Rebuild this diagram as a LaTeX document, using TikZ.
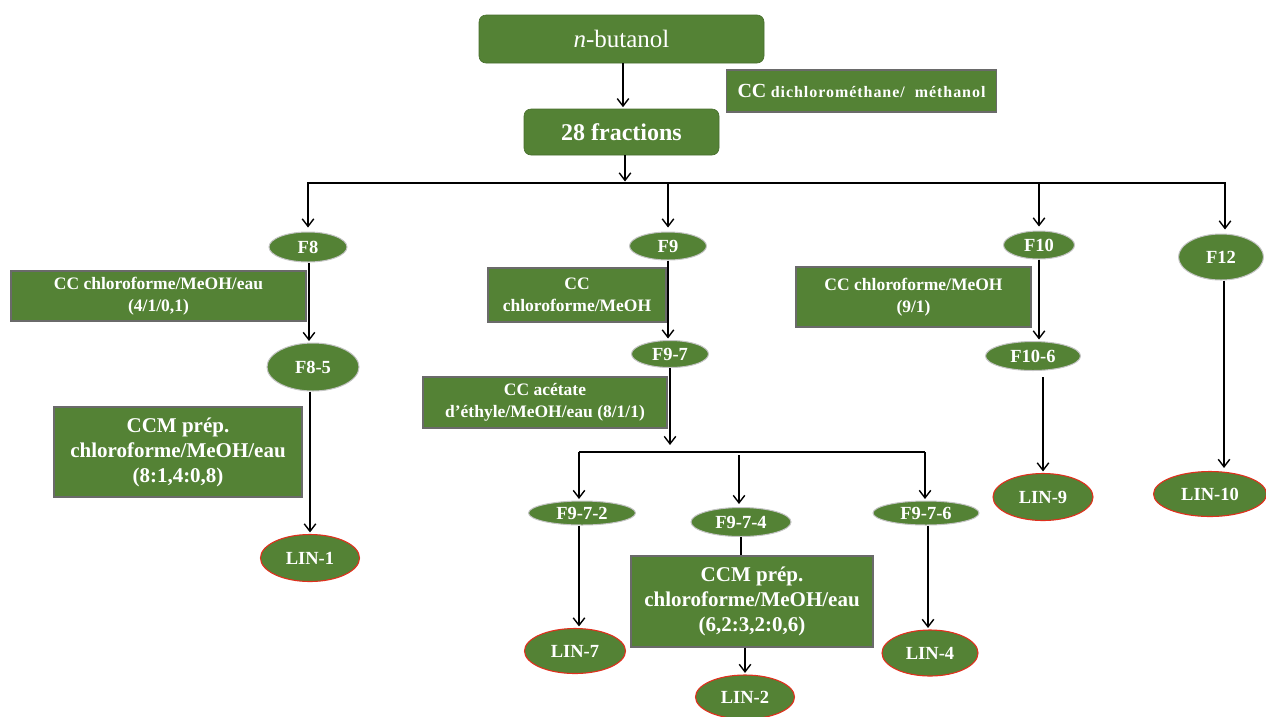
\documentclass[tikz,border=0pt]{standalone}
\usepackage{fontspec}
\setmainfont{Liberation Serif}
\newfontfamily\spacedserif[LetterSpace=6]{Liberation Serif}
\usetikzlibrary{shapes.geometric,arrows.meta}
\definecolor{leaf}{HTML}{548235}
\definecolor{rimgray}{HTML}{6A6A6A}
\definecolor{ovalrim}{HTML}{C4C4C4}
\definecolor{linrim}{HTML}{E0301E}
\begin{document}
\begin{tikzpicture}[x=1pt,y=-1pt,
  txt/.style={text=white,align=center,inner sep=0pt},
  headbox/.style={txt,fill=leaf,draw=leaf!85!black,line width=0.6pt,rounded corners=7pt},
  box/.style={txt,fill=leaf,draw=rimgray,line width=1.3pt,
    font={\fontsize{17.5}{21.5}\selectfont\bfseries}},
  bigbox/.style={box,font={\fontsize{21}{25}\selectfont\bfseries}},
  oval/.style={txt,ellipse,fill=leaf,draw=ovalrim,line width=1pt,
    font={\fontsize{18.5}{21}\selectfont\bfseries}},
  linoval/.style={oval,draw=linrim,line width=1.1pt},
  arr/.style={line width=1.4pt,shorten >=1.5pt,
    -{Straight Barb[length=7.5pt,width=11.5pt,line width=1.4pt]}},
  link/.style={line width=1.4pt}]

% page
\fill[white] (0,0) rectangle (1266,716);
\useasboundingbox (0,0) rectangle (1266,716);

% top of the scheme
\node[headbox,minimum width=285,minimum height=48,
  font={\fontsize{25}{28}\selectfont}] (butanol) at (621.5,39) {\textit{n}-butanol};
\node[headbox,minimum width=195,minimum height=46,
  font={\fontsize{24}{28}\selectfont\bfseries}] (frac) at (621.5,132) {28 fractions};
\node[box,minimum width=270,minimum height=42] (ccdcm) at (861.5,91)
  {{\fontsize{20}{21}\selectfont CC} {\fontsize{16}{19}\selectfont\spacedserif\bfseries dichlorométhane/\ \ méthanol}};

% first level fractions
\node[oval,minimum width=78,minimum height=30] (F8) at (308,247) {F8};
\node[oval,minimum width=77,minimum height=28] (F9) at (668,246) {F9};
\node[oval,minimum width=71,minimum height=28] (F10) at (1039,245) {F10};
\node[oval,minimum width=85,minimum height=46] (F12) at (1221,257) {F12};

% F8 branch
\node[box,minimum width=295,minimum height=50] (box1) at (158.5,296)
  {CC chloroforme/MeOH/eau\\(4/1/0,1)};
\node[oval,minimum width=92,minimum height=48] (F85) at (313,367) {F8-5};
\node[bigbox,minimum width=248,minimum height=90] (box2) at (178,452)
  {CCM prép.\\chloroforme/MeOH/eau\\(8:1,4:0,8)};
\node[linoval,minimum width=99,minimum height=47] (LIN1) at (310,558) {LIN-1};

% F9 branch
\node[box,minimum width=178,minimum height=54] (box3) at (577,295)
  {CC\\chloroforme/MeOH};
\node[oval,minimum width=77,minimum height=27] (F97) at (670,354) {F9-7};
\node[box,minimum width=244,minimum height=51] (box4) at (545,402.5)
  {CC acétate\\d’éthyle/MeOH/eau (8/1/1)};
\node[oval,minimum width=107,minimum height=24] (F972) at (582,513) {F9-7-2};
\node[oval,minimum width=100,minimum height=29] (F974) at (741,522) {F9-7-4};
\node[oval,minimum width=106,minimum height=24] (F976) at (926,513) {F9-7-6};
\node[linoval,minimum width=101,minimum height=45] (LIN7) at (575,651) {LIN-7};
\node[bigbox,minimum width=242,minimum height=91] (box5) at (752,601.5)
  {CCM prép.\\chloroforme/MeOH/eau\\(6,2:3,2:0,6)};
\node[linoval,minimum width=99,minimum height=44] (LIN2) at (745,697) {LIN-2};
\node[linoval,minimum width=96,minimum height=46] (LIN4) at (930,653) {LIN-4};

% F10 branch
\node[box,minimum width=235,minimum height=60] (box6) at (913.5,297)
  {CC chloroforme/MeOH\\(9/1)};
\node[oval,minimum width=95,minimum height=29] (F106) at (1033,356) {F10-6};
\node[linoval,minimum width=100,minimum height=47] (LIN9) at (1043,497) {LIN-9};

% F12 branch
\node[linoval,minimum width=113,minimum height=45] (LIN10) at (1210,494) {LIN-10};

% junction points
\coordinate (hub) at (625,183);
\coordinate (jTop) at (670,452);
\coordinate (jL) at (579,452);
\coordinate (jR) at (925,452);
\coordinate (jM) at (739,455);

% connectors
\draw[arr] ([xshift=1.5pt]butanol.south) -- ([xshift=1.5pt]frac.north);
\draw[arr] ([xshift=3.5pt]frac.south) -- (hub);
\draw[line width=2.6pt] (hub) -- ++(23,0);
\draw[arr,shorten >=4pt] (hub) -| (F8.north);
\draw[arr,shorten >=4pt] (hub) -| ([xshift=4pt]F12.north);
\draw[arr,shorten >=4pt] (hub -| F9.north) -- (F9.north);
\draw[arr,shorten >=4pt] (hub -| F10.north) -- (F10.north);

\draw[arr] ([xshift=1pt]F8.south) -- ([xshift=1pt]F8.south |- F85.north);
\draw[arr] (F85.south -| LIN1.north) -- (LIN1.north);

\draw[arr] (F9.south) -- (F9.south |- F97.north);
\draw[arr,shorten >=0pt] (F97.south) -- ([yshift=7pt]jTop);
\draw[link] (jL) -- (jR);
\draw[arr] (jL) -- (jL |- F972.north);
\draw[arr] (jR) -- (jR |- F976.north);
\draw[arr,shorten >=3pt] (jM) -- (jM |- F974.north);
\draw[arr] (F972.south -| jL) -- (jL |- LIN7.north);
\draw[link] (F974.south) -- (F974.south |- box5.north);
\draw[arr] (box5.south -| LIN2.north) -- (LIN2.north);
\draw[arr] ([xshift=2pt]F976.south) -- ([xshift=2pt]F976.south |- LIN4.north);

\draw[arr] (F10.south) -- (F10.south |- F106.north);
\draw[arr] ([yshift=-6pt]F106.south -| LIN9.north) -- (LIN9.north);
\draw[arr,shorten >=3pt] ([xshift=3pt]F12.south) -- ([xshift=3pt]F12.south |- LIN10.north);
\end{tikzpicture}
\end{document}
